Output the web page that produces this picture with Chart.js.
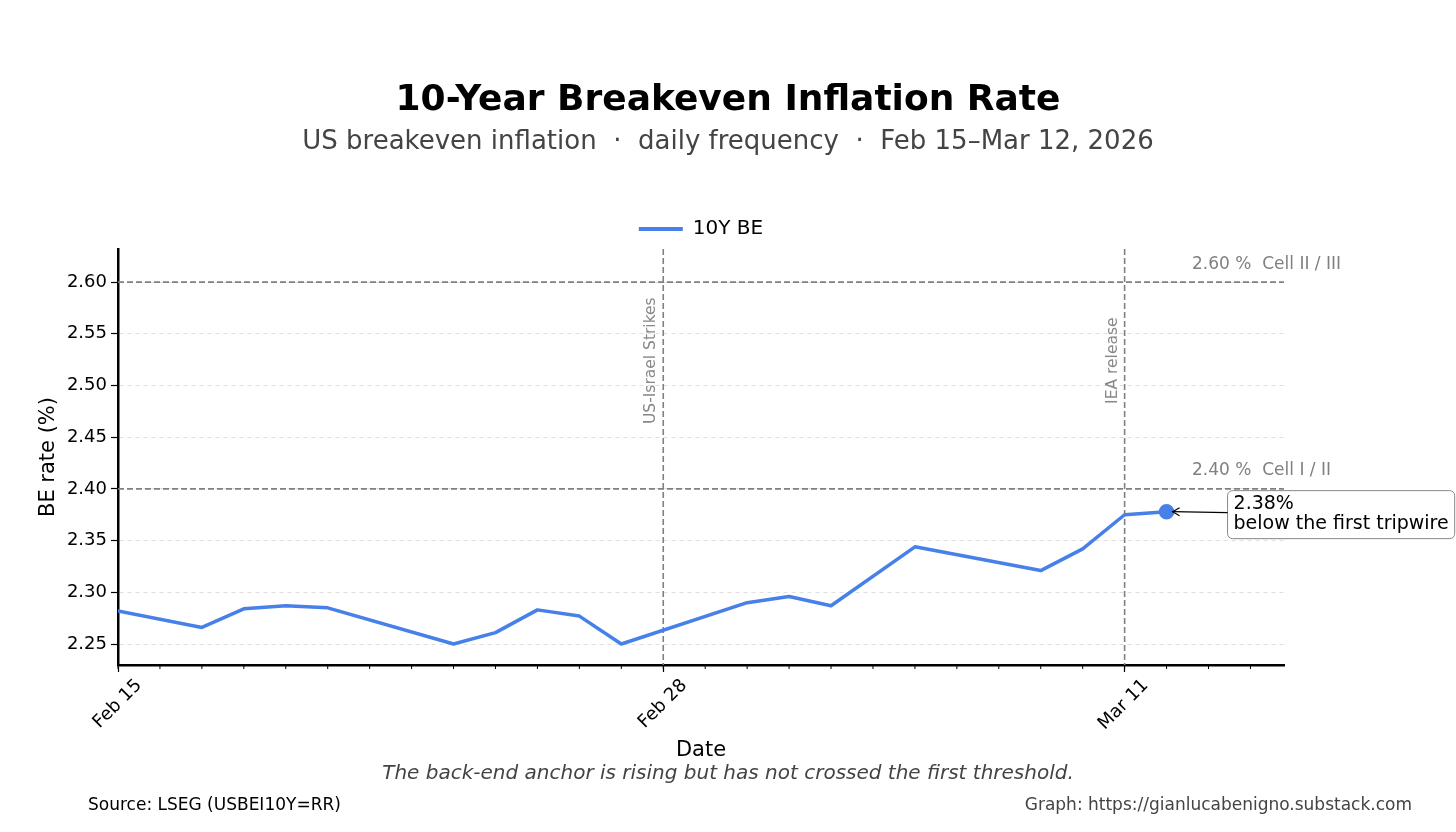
<!DOCTYPE html>
<html>
<head>
<meta charset="utf-8">
<script src="https://cdn.jsdelivr.net/npm/chart.js@4.4.1/dist/chart.umd.min.js"></script>
<style>
  html, body { margin: 0; padding: 0; background: #ffffff; }
  #wrap { position: relative; width: 1456px; height: 832px; }
  canvas { position: absolute; left: 0; top: 0; }
</style>
</head>
<body>
<div id="wrap"><canvas id="chart" width="1456" height="832"></canvas></div>
<script>
// ---------------- DATA ----------------
const dates = [
  '2026-02-15', '2026-02-17', '2026-02-18', '2026-02-19', '2026-02-20',
  '2026-02-23', '2026-02-24', '2026-02-25', '2026-02-26', '2026-02-27',
  '2026-03-02', '2026-03-03', '2026-03-04', '2026-03-06',
  '2026-03-09', '2026-03-10', '2026-03-11', '2026-03-12'
];
const beRates = [
  2.282, 2.266, 2.284, 2.287, 2.285,
  2.250, 2.261, 2.283, 2.277, 2.250,
  2.290, 2.296, 2.287, 2.344,
  2.321, 2.342, 2.375, 2.378
];
const seriesLabel = '10Y BE';
const xTickDates = ['2026-02-15', '2026-02-28', '2026-03-11'];
const xTickLabels = ['Feb 15', 'Feb 28', 'Mar 11'];
const yTickValues = [2.25, 2.30, 2.35, 2.40, 2.45, 2.50, 2.55, 2.60];
const thresholdValues = [2.60, 2.40];
const thresholdLabels = ['2.60 %  Cell II / III', '2.40 %  Cell I / II'];
const eventDates = ['2026-02-28', '2026-03-11'];
const eventLabels = ['US-Israel Strikes', 'IEA release'];
const eventLabelLevel = 2.524;
const endNoteLines = ['2.38%', 'below the first tripwire'];
const titleText = '10-Year Breakeven Inflation Rate';
const subtitleText = 'US breakeven inflation  \u00b7  daily frequency  \u00b7  Feb 15\u2013Mar 12, 2026';
const xAxisTitle = 'Date';
const yAxisTitle = 'BE rate (%)';
const captionText = 'The back-end anchor is rising but has not crossed the first threshold.';
const sourceText = 'Source: LSEG (USBEI10Y=RR)';
const creditText = 'Graph: https://gianlucabenigno.substack.com';
const xStartDate = '2026-02-15';
const xEndDays = 27.8;
const yMin = 2.2297, yMax = 2.632;

// ---------------- HELPERS ----------------
const FONT = "'DejaVu Sans', 'Noto Sans', sans-serif";
const LINE_COLOR = '#4680e8';
function dayIndex(d) {
  const [y, m, dd] = d.split('-').map(Number);
  const [y0, m0, d0] = xStartDate.split('-').map(Number);
  return (Date.UTC(y, m - 1, dd) - Date.UTC(y0, m0 - 1, d0)) / 86400000;
}
const points = dates.map((d, i) => ({ x: dayIndex(d), y: beRates[i] }));
const lastIdx = points.length - 1;

// ---------------- ANNOTATION PLUGIN ----------------
const annotations = {
  id: 'annotations',
  beforeDatasetsDraw(chart) {
    const { ctx, chartArea: a, scales: { x, y } } = chart;
    ctx.save();
    ctx.strokeStyle = '#808080';
    ctx.lineWidth = 1.6;
    ctx.setLineDash([6, 3]);
    thresholdValues.forEach(v => {
      const py = y.getPixelForValue(v);
      ctx.beginPath(); ctx.moveTo(a.left, py); ctx.lineTo(a.right, py); ctx.stroke();
    });
    eventDates.forEach(d => {
      const px = x.getPixelForValue(dayIndex(d));
      ctx.beginPath(); ctx.moveTo(px, a.top); ctx.lineTo(px, a.bottom); ctx.stroke();
    });
    ctx.restore();
  },
  afterDatasetsDraw(chart) {
    const { ctx, chartArea: a, scales: { x, y } } = chart;
    ctx.save();
    // threshold labels
    ctx.fillStyle = '#808080';
    ctx.font = '17px ' + FONT;
    ctx.textAlign = 'left';
    ctx.textBaseline = 'middle';
    thresholdValues.forEach((v, i) => {
      const py = y.getPixelForValue(v);
      ctx.fillText(thresholdLabels[i], a.right - 92, py - 18);
    });
    // event labels (rotated)
    ctx.font = '15.5px ' + FONT;
    ctx.fillStyle = '#888888';
    eventDates.forEach((d, i) => {
      const px = x.getPixelForValue(dayIndex(d));
      const py = y.getPixelForValue(eventLabelLevel);
      ctx.save();
      ctx.translate(px - 12, py);
      ctx.rotate(-Math.PI / 2);
      ctx.textAlign = 'center';
      ctx.textBaseline = 'middle';
      ctx.fillText(eventLabels[i], 0, 0);
      ctx.restore();
    });
    // end note box + arrow
    const meta = chart.getDatasetMeta(0);
    const pt = meta.data[lastIdx];
    ctx.font = '19px ' + FONT;
    const tw = Math.max(...endNoteLines.map(t => ctx.measureText(t).width));
    const bx = pt.x + 61, bw = tw + 12, bh = 48, by = pt.y - 21;
    ctx.beginPath();
    ctx.roundRect(bx, by, bw, bh, 5);
    ctx.fillStyle = '#ffffff';
    ctx.fill();
    ctx.strokeStyle = '#888888';
    ctx.lineWidth = 1;
    ctx.stroke();
    ctx.fillStyle = '#000000';
    ctx.textAlign = 'left';
    ctx.textBaseline = 'middle';
    ctx.fillText(endNoteLines[0], bx + 6, by + 13);
    ctx.fillText(endNoteLines[1], bx + 6, by + 33);
    // arrow
    const tipX = pt.x + 6, tipY = pt.y;
    ctx.strokeStyle = '#000000';
    ctx.lineWidth = 1.2;
    ctx.beginPath();
    ctx.moveTo(bx, pt.y + 1);
    ctx.lineTo(tipX, tipY);
    ctx.stroke();
    ctx.beginPath();
    ctx.moveTo(tipX + 7, tipY - 4);
    ctx.lineTo(tipX, tipY);
    ctx.lineTo(tipX + 7, tipY + 4);
    ctx.stroke();
    ctx.restore();
  },
  afterDraw(chart) {
    const { ctx, chartArea: a, width } = chart;
    ctx.save();
    // minor x ticks (daily)
    const x = chart.scales.x;
    ctx.strokeStyle = '#000';
    ctx.lineWidth = 1;
    for (let d = Math.ceil(x.min); d <= x.max; d++) {
      const px = x.getPixelForValue(d);
      ctx.beginPath(); ctx.moveTo(px, a.bottom); ctx.lineTo(px, a.bottom + 4); ctx.stroke();
    }
    // caption
    ctx.fillStyle = '#444444';
    ctx.font = 'italic 20px ' + FONT;
    ctx.textAlign = 'center';
    ctx.textBaseline = 'middle';
    ctx.fillText(captionText, width / 2, 774);
    // footer
    ctx.font = '17px ' + FONT;
    ctx.textAlign = 'left';
    ctx.fillStyle = '#000000';
    ctx.fillText(sourceText, 88, 806);
    ctx.textAlign = 'right';
    ctx.fillStyle = '#444444';
    ctx.fillText(creditText, 1412, 806);
    ctx.restore();
  }
};

// ---------------- CHART ----------------
new Chart(document.getElementById('chart'), {
  type: 'line',
  data: {
    datasets: [{
      label: seriesLabel,
      data: points,
      borderColor: LINE_COLOR,
      backgroundColor: LINE_COLOR,
      borderWidth: 3.5,
      tension: 0,
      pointRadius: ctx => (ctx.dataIndex === lastIdx ? 6 : 0),
      pointHoverRadius: 0,
      pointBackgroundColor: LINE_COLOR,
      pointBorderColor: LINE_COLOR,
      borderJoinStyle: 'round',
      borderCapStyle: 'round'
    }]
  },
  options: {
    responsive: false,
    animation: false,
    events: [],
    layout: { padding: { top: 0, left: 20, right: 20, bottom: 67 } },
    plugins: {
      title: {
        display: true, text: titleText, color: '#000',
        font: { family: FONT, size: 36, weight: 'bold' },
        padding: { top: 78.8, bottom: 4.2 }
      },
      subtitle: {
        display: true, text: subtitleText, color: '#444444',
        font: { family: FONT, size: 26 },
        padding: { top: 0, bottom: 51.6 }
      },
      legend: {
        display: true, position: 'top', fullSize: false,
        labels: {
          color: '#000', font: { family: FONT, size: 20 },
          boxWidth: 44, boxHeight: 4, padding: 10,
          generateLabels(chart) {
            return chart.data.datasets.map((ds, i) => ({
              text: ds.label, fillStyle: ds.borderColor, strokeStyle: ds.borderColor,
              lineWidth: 0, hidden: false, datasetIndex: i, fontColor: '#000'
            }));
          }
        }
      },
      tooltip: { enabled: false }
    },
    scales: {
      x: {
        type: 'linear', min: 0, max: xEndDays,
        afterBuildTicks(scale) { scale.ticks = xTickDates.map(d => ({ value: dayIndex(d) })); },
        afterFit(scale) { scale.height = 100; },
        ticks: {
          autoSkip: false, minRotation: 45, maxRotation: 45, labelOffset: 21,
          color: '#000', font: { family: FONT, size: 18 }, padding: 3,
          callback: (v, i) => xTickLabels[i]
        },
        grid: { drawOnChartArea: false, drawTicks: true, tickLength: 7, tickColor: '#000', tickWidth: 1.2 },
        border: { display: true, color: '#000', width: 2.5 },
        title: {
          display: true, text: xAxisTitle, color: '#000',
          font: { family: FONT, size: 21 }, padding: { top: 0, bottom: 1.4 }
        }
      },
      y: {
        type: 'linear', position: 'left', min: yMin, max: yMax,
        afterBuildTicks(scale) { scale.ticks = yTickValues.map(v => ({ value: v })); },
        afterFit(scale) { scale.width = 98; },
        ticks: {
          color: '#000', font: { family: FONT, size: 18 }, padding: 4,
          callback: v => Number(v).toFixed(2)
        },
        grid: {
          drawOnChartArea: true, drawTicks: true, tickLength: 7,
          color: 'rgba(0,0,0,0.12)', lineWidth: 1,
          tickColor: '#000', tickWidth: 1.2, tickBorderDash: []
        },
        border: { display: true, color: '#000', width: 2.5, dash: [4, 4] },
        title: {
          display: true, text: yAxisTitle, color: '#000',
          font: { family: FONT, size: 21 }, padding: { top: 16, bottom: 0 }
        }
      },
      yRight: {
        type: 'linear', position: 'right', display: true,
        afterFit(scale) { scale.width = 152; },
        ticks: { display: false },
        grid: { display: false, drawTicks: false },
        border: { display: false },
        title: { display: false }
      }
    }
  },
  plugins: [annotations]
});
</script>
</body>
</html>
